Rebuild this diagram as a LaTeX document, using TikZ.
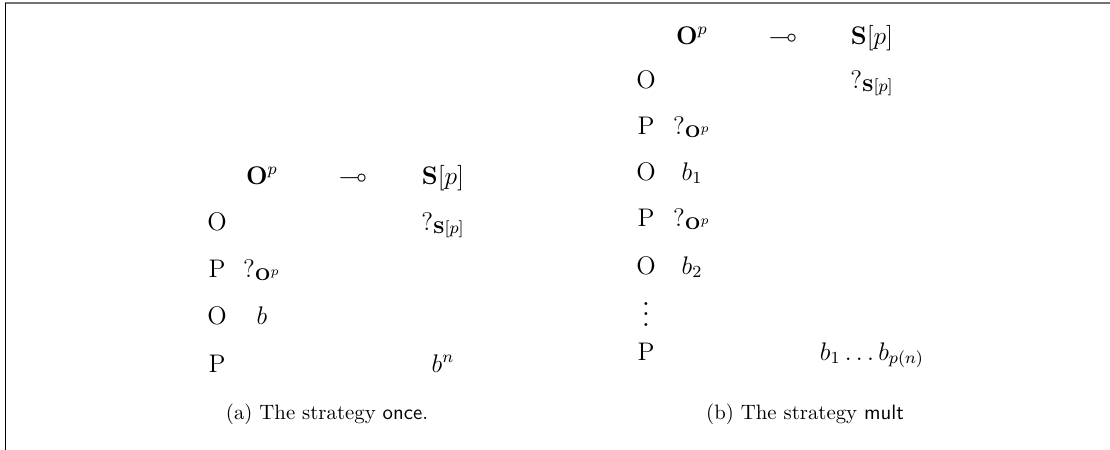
\documentclass[tikz,border=0pt]{standalone}
\usepackage{amssymb}
\begin{document}
\begin{tikzpicture}[x=0.5pt,y=-0.5pt,
  cell/.style={anchor=base,inner sep=0pt,font=\large,scale=1.06,transform shape},
  captext/.style={anchor=base,inner sep=0pt,font=\normalsize,scale=1.04,transform shape},
  topframe/.style={draw=black!55,line width=0.8pt},
  leftframe/.style={draw=black,line width=0.5pt}]
\useasboundingbox (0,0) rectangle (1110,450);
\draw[topframe] (5,3) -- (1110,3);
\draw[leftframe] (5.5,3) -- (5.5,450);
% left panel
\node[cell] (a11) at (262,184) {$\mathbf{O}^p$};
\node[cell] (a12) at (353,184) {$\multimap$};
\node[cell] (a13) at (443,184) {$\mathbf{S}[p]$};
\node[cell] (a21) at (217,230) {O};
\node[cell] (a23) at (443,230) {$?_{\mathbf{S}[p]}$};
\node[cell] (a31) at (217,277) {P};
\node[cell] (a32) at (262,277) {$?_{\mathbf{O}^p}$};
\node[cell] (a41) at (217,324) {O};
\node[cell] (a42) at (262,324) {$b$};
\node[cell] (a51) at (217,372) {P};
\node[cell] (a53) at (443,372) {$b^n$};
\node[captext] (capa) at (327,419) {(a) The strategy \textsf{once}.};
% right panel
\node[cell] (b11) at (692,44) {$\mathbf{O}^p$};
\node[cell] (b12) at (783,44) {$\multimap$};
\node[cell] (b13) at (872,44) {$\mathbf{S}[p]$};
\node[cell] (b21) at (646,88) {O};
\node[cell] (b23) at (872,88) {$?_{\mathbf{S}[p]}$};
\node[cell] (b31) at (646,134) {P};
\node[cell] (b32) at (692,134) {$?_{\mathbf{O}^p}$};
\node[cell] (b41) at (646,180) {O};
\node[cell] (b42) at (692,180) {$b_1$};
\node[cell] (b51) at (646,226) {P};
\node[cell] (b52) at (692,226) {$?_{\mathbf{O}^p}$};
\node[cell] (b61) at (646,274) {O};
\node[cell] (b62) at (692,274) {$b_2$};
\node[cell] (b71) at (646,326) {\scalebox{1.2}{$\vdots$}};
\node[cell] (b81) at (646,360) {P};
\node[cell] (b83) at (872,360) {$b_1\dots b_{p(n)}$};
\node[captext] (capb) at (805,419) {(b) The strategy \textsf{mult}};
\end{tikzpicture}
\end{document}
